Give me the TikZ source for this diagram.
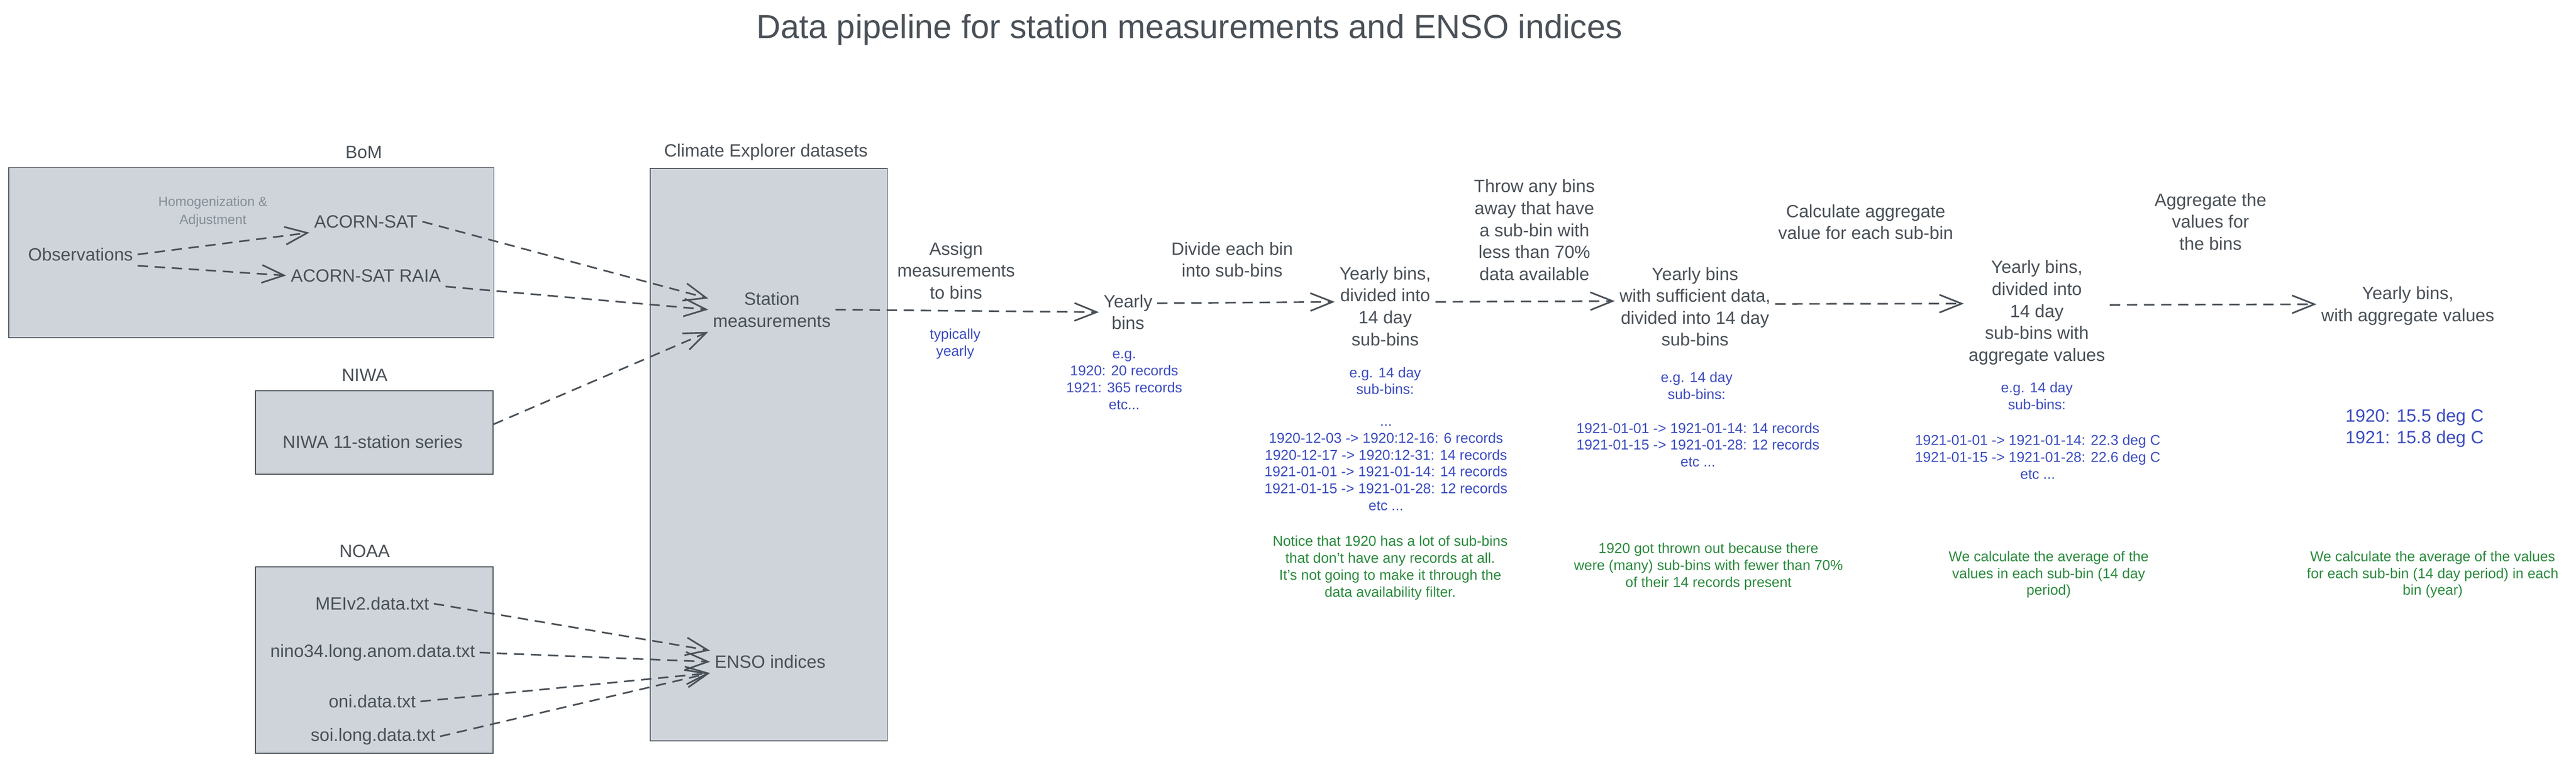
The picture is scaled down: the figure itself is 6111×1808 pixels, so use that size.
\documentclass[tikz,border=0pt]{standalone}
\usepackage{fontspec}
\setmainfont{Liberation Sans}
\usetikzlibrary{arrows.meta}

\definecolor{ink}{HTML}{495057}
\definecolor{boxfill}{HTML}{CED4DA}
\definecolor{faint}{HTML}{868E96}
\definecolor{egblue}{HTML}{3B4CC0}
\definecolor{notegreen}{HTML}{2B8A3E}

\begin{document}
\begin{tikzpicture}[x=0.01cm,y=-0.01cm,
  group/.style={draw=ink, fill=boxfill, line width=.6pt, inner sep=0pt},
  stage/.style={text=ink, align=center, inner sep=3pt, font=\fontsize{12}{14.8}\selectfont},
  example/.style={text=egblue, align=center, inner sep=3pt, font=\fontsize{9.6}{11.4}\selectfont},
  remark/.style={text=notegreen, align=center, inner sep=3pt, font=\fontsize{9.6}{11.4}\selectfont},
  flow/.style={draw=ink, line width=1.1pt, dash pattern=on 7pt off 4.5pt},
  >={Straight Barb[length=15pt,width=12pt]}]

\useasboundingbox (0,0) rectangle (6111,1808);

\node[text=ink, font=\fontsize{22.6}{27}\selectfont] (title) at (2822,70) {Data pipeline for station measurements and ENSO indices};

\node[group, minimum width=11.5cm, minimum height=4.04cm] (bom) at (596,600) {};
\node[group, minimum width=5.62cm, minimum height=13.58cm] (ce) at (1824,1079) {};
\node[group, minimum width=5.63cm, minimum height=1.98cm] (niwa) at (888,1027) {};
\node[group, minimum width=5.63cm, minimum height=4.42cm] (noaa) at (888,1567) {};

\node[stage] (bomlabel) at (863,361) {BoM};
\node[stage] (celabel) at (1817,361) {Climate Explorer datasets};
\node[stage] (niwalabel) at (865,890) {NIWA};
\node[stage] (noaalabel) at (865,1309) {NOAA};

\node[stage] (obs) at (191,604) {Observations};
\node[stage, text=faint, font=\fontsize{9}{12}\selectfont] (homog) at (505,503) {Homogenization \&\\Adjustment};
\node[stage] (acorn) at (868,526) {ACORN-SAT};
\node[stage] (raia) at (868,654) {ACORN-SAT RAIA};
\node[stage] (niwa11) at (884,1049) {NIWA 11-station series};

\node[stage] (mei) at (883,1433) {MEIv2.data.txt};
\node[stage] (nino) at (884,1549) {nino34.long.anom.data.txt};
\node[stage] (oni) at (883,1665) {oni.data.txt};
\node[stage] (soi) at (885,1748) {soi.long.data.txt};

\node[stage] (station) at (1831,735) {Station\\measurements};
\node[stage] (enso) at (1827,1571) {ENSO indices};

\node[stage] (assign) at (2268,642) {Assign\\measurements\\to bins};
\node[example] (typical) at (2266,816) {typically\\yearly};
\node[stage] (yearly) at (2676,741) {Yearly\\bins};
\node[example] (yearlyeg) at (2667,903) {e.g.\\1920: 20 records\\1921: 365 records\\etc...};

\node[stage] (divide) at (2923,616) {Divide each bin\\into sub-bins};
\node[stage] (divided) at (3286,727) {Yearly bins,\\divided into\\14 day\\sub-bins};
\node[example] (dividedeg) at (3286,904) {e.g. 14 day\\sub-bins:};
\node[example] (dividedlist) at (3288,1110) {...\\1920-12-03 -> 1920:12-16: 6 records\\1920-12-17 -> 1920:12-31: 14 records\\1921-01-01 -> 1921-01-14: 14 records\\1921-01-15 -> 1921-01-28: 12 records\\etc ...};
\node[remark] (notice) at (3298,1348) {Notice that 1920 has a lot of sub-bins\\that don't have any records at all.\\It's not going to make it through the\\data availability filter.};

\node[stage] (throw) at (3640,546) {Throw any bins\\away that have\\a sub-bin with\\less than 70\%\\data available};
\node[stage] (sufficient) at (4021,728) {Yearly bins\\with sufficient data,\\divided into 14 day\\sub-bins};
\node[example] (sufficienteg) at (4025,916) {e.g. 14 day\\sub-bins:};
\node[example] (sufficientlist) at (4028,1056) {1921-01-01 -> 1921-01-14: 14 records\\1921-01-15 -> 1921-01-28: 12 records\\etc ...};
\node[remark] (thrown) at (4053,1345) {1920 got thrown out because there\\were (many) sub-bins with fewer than 70\%\\of their 14 records present};

\node[stage] (calc) at (4426,527) {Calculate aggregate\\value for each sub-bin};
\node[stage] (aggsub) at (4832,742) {Yearly bins,\\divided into\\14 day\\sub-bins with\\aggregate values};
\node[example] (aggsubeg) at (4832,940) {e.g. 14 day\\sub-bins:};
\node[example] (aggsublist) at (4834,1085) {1921-01-01 -> 1921-01-14: 22.3 deg C\\1921-01-15 -> 1921-01-28: 22.6 deg C\\etc ...};
\node[remark] (avgsub) at (4860,1364) {We calculate the average of the\\values in each sub-bin (14 day\\period)};

\node[stage] (aggr) at (5244,526) {Aggregate the\\values for\\the bins};
\node[stage] (final) at (5712,726) {Yearly bins,\\with aggregate values};
\node[example, font=\fontsize{12}{14.5}\selectfont] (finallist) at (5728,1016) {1920: 15.5 deg C\\1921: 15.8 deg C};
\node[remark] (avgbin) at (5771,1364) {We calculate the average of the values\\for each sub-bin (14 day period) in each\\bin (year)};

\begin{scope}[->, flow]
\draw (obs.east) -- (acorn.south west);
\draw (obs.south east) -- (raia.west);
\draw (acorn.east) -- (station.170);
\draw (raia.south east) -- (station.west);
\draw (niwa.4) -- (station.south west);
\draw (station.east) -- (yearly.west);
\draw (yearly.17) -- (divided.175);
\draw (divided.5) -- (sufficient.176);
\draw (sufficient.2) -- (aggsub.173);
\draw (aggsub.6) -- (final.179);
\end{scope}

\begin{scope}[->, flow]
\draw (mei.east) -- (enso.north west);
\draw (nino.east) -- (enso.west);
\draw (oni.east) -- (enso.south west);
\draw (soi.east) -- (enso.south west);
\end{scope}
\end{tikzpicture}
\end{document}
